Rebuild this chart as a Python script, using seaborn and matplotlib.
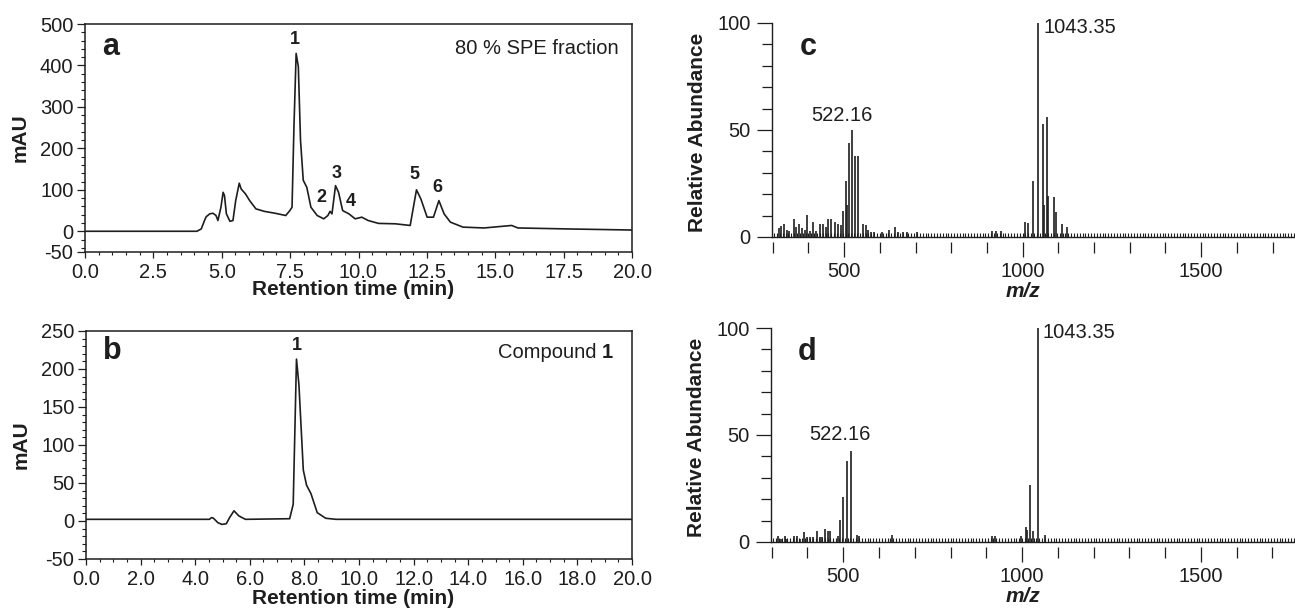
import matplotlib
matplotlib.use("Agg")
import matplotlib.pyplot as plt
import seaborn as sns
from matplotlib.ticker import MultipleLocator, NullLocator, FormatStrFormatter

sns.set_theme(style="ticks")
plt.rcParams['font.family'] = ['Liberation Sans', 'DejaVu Sans']
plt.rcParams['axes.unicode_minus'] = False

# ---------------- data ----------------
# (a) 80 % SPE fraction chromatogram
time_a = [0.0, 4.09, 4.25, 4.37, 4.43, 4.56, 4.68, 4.79, 4.86, 4.97, 5.05, 5.10, 5.17, 5.30,
          5.41, 5.51, 5.64, 5.71, 5.87, 6.02, 6.25, 6.56, 6.95, 7.34, 7.49, 7.57, 7.64, 7.72,
          7.80, 7.88, 7.98, 8.11, 8.26, 8.49, 8.73, 8.88, 8.96, 9.03, 9.16, 9.27, 9.42, 9.65,
          9.88, 10.12, 10.35, 10.73, 11.35, 11.89, 12.05, 12.12, 12.28, 12.51, 12.74, 12.94,
          13.13, 13.36, 13.82, 14.59, 15.60, 15.83, 17.68, 20.0]
mau_a = [0, 0, 5.6, 26, 35, 42, 43.5, 38, 26, 58, 94, 86, 42, 24,
         26, 74, 116, 102, 90, 74, 54, 48, 43.5, 38, 50, 58, 252, 429,
         397, 219, 123, 106, 58, 38, 30, 38, 48, 42, 110, 94, 50, 42,
         30, 34, 26, 19, 18, 14, 74, 100, 78, 34, 34, 74,
         42, 22, 10, 8, 14, 8, 5.6, 3]
peak_a = ["1", "2", "3", "4", "5", "6"]
peak_a_x = [7.66, 8.65, 9.19, 9.73, 12.06, 12.88]
peak_a_y = [462, 82, 140, 72, 137, 105]

# (b) compound 1 chromatogram
time_b = [0.0, 4.52, 4.60, 4.67, 4.83, 4.98, 5.14, 5.26, 5.42, 5.60, 5.84, 7.46, 7.59, 7.71,
          7.80, 7.96, 8.08, 8.24, 8.47, 8.78, 9.16, 20.0]
mau_b = [2.2, 2.2, 4.5, 3.6, -2.2, -4.5, -3.6, 4.5, 13.4, 6.7, 2.2, 3, 22, 213,
         179, 67, 47, 36, 11, 3.6, 2.2, 2.2]

# (c) MS of 80 % SPE fraction
mz_c = [317, 323, 332, 339, 347, 361, 366, 375, 383, 390, 397, 404, 413, 421, 432, 440, 448,
        455, 464, 475, 483, 491, 497, 505, 509, 515, 522.16, 530, 538, 553, 560, 567, 575,
        584, 605, 627, 643, 652, 665, 676, 703, 915, 925, 940, 1007, 1014, 1028, 1043.35,
        1056, 1059, 1067, 1071, 1088, 1093, 1111, 1124]
ab_c = [4, 5, 6, 3.4, 3, 8.5, 4.6, 6, 4, 3.4, 10.4, 3, 7, 3, 6, 6, 4.6,
        8.2, 8.2, 7, 6, 5.4, 12, 26, 15, 44, 50, 38, 38, 6, 5.4, 3.4, 2.5,
        2.2, 2.2, 3.4, 4.6, 2.5, 2.5, 2.2, 2.5, 3, 3, 3, 7, 6.5, 26, 100,
        53, 15, 56, 19, 18.6, 11.6, 6, 4.6]

# (d) MS of compound 1
mz_d = [317, 325, 336, 343, 363, 372, 380, 391, 398, 407, 415, 427, 434, 441, 449, 456, 464,
        484, 491, 500, 511, 522.16, 538, 544, 637, 916, 923, 998, 1011, 1015, 1022, 1031,
        1043.35, 1063]
ab_d = [3, 1.5, 2.6, 1.5, 2.8, 3, 1.5, 4.6, 2.5, 2.5, 2.2, 5, 2.2, 2.2, 6.2, 5, 5,
        3, 10.5, 21, 38, 42.3, 3.4, 3, 3.4, 2.6, 2.6, 2.6, 7, 5.7, 26.4, 5,
        100, 3.4]

ink = "#1e1e1e"
W, H = 1295, 609

fig = plt.figure(figsize=(W / 100, H / 100), dpi=100)


def px_axes(left, top, right, bottom):
    return fig.add_axes([left / W, 1 - bottom / H, (right - left) / W, (bottom - top) / H])


def style_lc(ax, xmaj, xmin, ymaj_list, ymin, ylim):
    ax.set_xlim(0, 20)
    ax.set_ylim(*ylim)
    ax.xaxis.set_major_locator(MultipleLocator(xmaj))
    ax.xaxis.set_minor_locator(MultipleLocator(xmin))
    ax.xaxis.set_major_formatter(FormatStrFormatter('%.1f'))
    ax.set_yticks(ymaj_list)
    ax.yaxis.set_minor_locator(MultipleLocator(ymin))
    for s in ax.spines.values():
        s.set_linewidth(1.1)
        s.set_color(ink)
    ax.tick_params(axis='x', which='major', length=4.3, width=0.9, pad=3.5, labelsize=14.5, colors=ink)
    ax.tick_params(axis='x', which='minor', length=2.2, width=0.8, colors=ink)
    ax.tick_params(axis='y', which='major', length=5.8, width=0.9, pad=2.5, labelsize=14.5, colors=ink)
    ax.tick_params(axis='y', which='minor', length=2.9, width=0.8, colors=ink)
    ax.set_xlabel("Retention time (min)", fontsize=15, fontweight='bold', color=ink, va='center')
    ax.set_ylabel("mAU", fontsize=15, fontweight='bold', color=ink, va='center')
    ax.yaxis.set_label_coords(-0.119, 0.5)


# ---------------- (a) ----------------
ax_a = px_axes(85, 24, 632, 252)
sns.lineplot(x=time_a, y=mau_a, ax=ax_a, color=ink, linewidth=1.2, sort=False)
style_lc(ax_a, 2.5, 0.5, [-50, 0, 100, 200, 300, 400, 500], 20, (-50, 500))
ax_a.xaxis.set_label_coords(0.49, -0.165)
for lab, x, y in zip(peak_a, peak_a_x, peak_a_y):
    ax_a.text(x, y, lab, ha='center', va='center', fontsize=13, fontweight='bold', color=ink)
ax_a.text(0.95, 445, "a", ha='center', va='center', fontsize=22, fontweight='bold', color=ink)
ax_a.text(19.5, 441, "80 % SPE fraction", ha='right', va='center', fontsize=14.5, color=ink)

# ---------------- (b) ----------------
ax_b = px_axes(86, 331, 632, 559)
sns.lineplot(x=time_b, y=mau_b, ax=ax_b, color=ink, linewidth=1.2, sort=False)
style_lc(ax_b, 2.0, 0.5, [-50, 0, 50, 100, 150, 200, 250], 10, (-50, 250))
ax_b.xaxis.set_label_coords(0.49, -0.175)
ax_b.text(7.71, 231, "1", ha='center', va='center', fontsize=13, fontweight='bold', color=ink)
ax_b.text(0.96, 224, "b", ha='center', va='center', fontsize=22, fontweight='bold', color=ink)
ax_b.text(19.3, 222, "1", ha='right', va='center', fontsize=14.5, fontweight='bold', color=ink)
ax_b.annotate("Compound", xy=(19.3, 222), xytext=(-12, 0), textcoords='offset points',
              ha='right', va='center', fontsize=14.5, color=ink)


# ---------------- (c), (d) ----------------
def style_ms(ax, mz, ab, letter, lab_small, lab_big):
    ax.vlines(mz, 0, ab, color=ink, linewidth=1.2)
    ax.set_xlim(298, 1763)
    ax.set_ylim(-2.34, 100)
    for s in ['top', 'right']:
        ax.spines[s].set_visible(False)
    ax.spines['left'].set_bounds(0, 100)
    ax.spines['bottom'].set_position(('data', 0))
    for s in ['left', 'bottom']:
        ax.spines[s].set_linewidth(1.0)
        ax.spines[s].set_color(ink)
    # noise comb along the baseline
    ax.xaxis.set_major_locator(NullLocator())
    ax.xaxis.set_minor_locator(MultipleLocator(8))
    ax.tick_params(axis='x', which='minor', direction='in', length=2.9, width=0.8, colors=ink)
    ax.set_yticks([0, 50, 100])
    ax.yaxis.set_minor_locator(MultipleLocator(10))
    ax.tick_params(axis='y', which='major', length=10.8, width=0.9, pad=4.5, labelsize=14.5, colors=ink)
    ax.tick_params(axis='y', which='minor', length=7.2, width=0.9, colors=ink)
    ax.set_ylabel("Relative Abundance", fontsize=15, fontweight='bold', color=ink, va='center')
    ax.yaxis.set_label_coords(-0.143, 0.5)
    ax.set_xlabel("m/z", fontsize=15, fontweight='bold', fontstyle='italic', color=ink, va='center')
    ax.xaxis.set_label_coords(0.48, -0.225)
    sec = ax.secondary_xaxis(0.0)
    sec.spines['bottom'].set_visible(False)
    sec.set_xticks([500, 1000, 1500])
    sec.xaxis.set_minor_locator(MultipleLocator(100))
    sec.tick_params(which='major', length=10.5, width=0.9, pad=4, labelsize=14.5, colors=ink)
    sec.tick_params(which='minor', length=8, width=0.9, colors=ink)
    ax.text(399, 89, letter, ha='center', va='center', fontsize=22, fontweight='bold', color=ink)
    ax.text(lab_small[0], lab_small[1], "522.16", ha='center', va='center', fontsize=14.5, color=ink)
    ax.text(lab_big[0], lab_big[1], "1043.35", ha='left', va='center', fontsize=14.5, color=ink)


ax_c = px_axes(772, 23, 1295, 242)
style_ms(ax_c, mz_c, ab_c, "c", (494, 57), (1058, 97.7))

ax_d = px_axes(771, 328, 1295, 547)
style_ms(ax_d, mz_d, ab_d, "d", (491, 50), (1056, 97.7))

fig.savefig("out.png", dpi=100)
